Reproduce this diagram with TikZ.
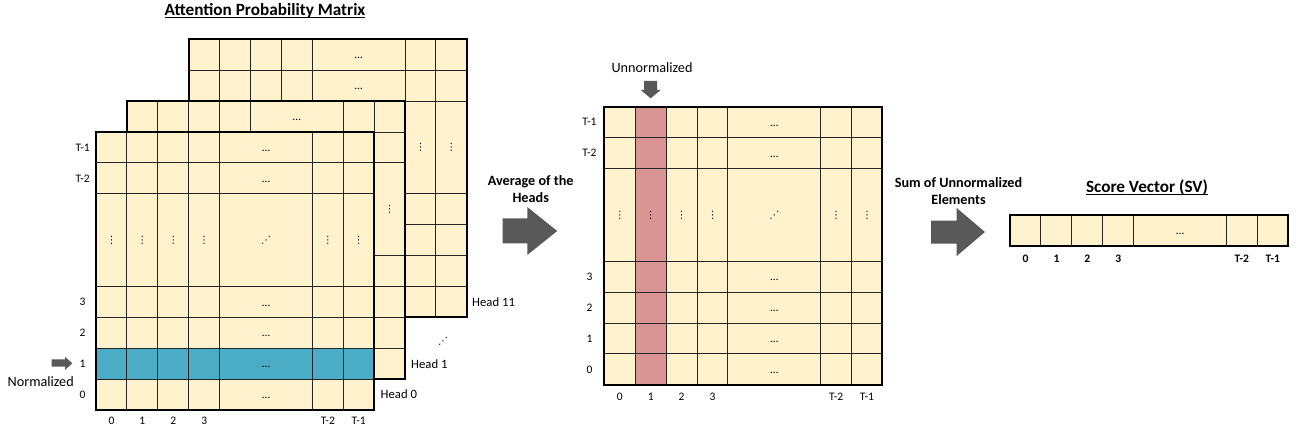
\documentclass[tikz,border=0pt]{standalone}
\usepackage{fontspec}
\setmainfont{Carlito}
\newfontfamily\dotsfont{DejaVu Sans}
\usetikzlibrary{calc}

\definecolor{cellcream}{RGB}{255,242,204}
\definecolor{rowblue}{RGB}{75,172,198}
\definecolor{colred}{RGB}{217,149,148}
\definecolor{arrowgray}{RGB}{89,89,89}

\tikzset{
  gridline/.style={line width=1pt,draw=black!85},
  frameline/.style={line width=2pt,draw=black},
}

% size of one cell
\newcommand{\uw}{30.9}

% one 9x9 probability matrix, origin at its top left corner
\newcommand{\probgrid}[3]{%
  \begin{scope}[shift={(#1,#2)}]
    \fill[cellcream] (0,0) rectangle (9*\uw,9*\uw);
    #3
    \foreach \c in {1,2,3,4,7,8}
      \draw[gridline] (\c*\uw,0) -- (\c*\uw,9*\uw);
    \foreach \r in {1,2,5,6,7,8}
      \draw[gridline] (0,\r*\uw) -- (9*\uw,\r*\uw);
    \draw[frameline] (0,0) rectangle (9*\uw,9*\uw);
  \end{scope}}

% underlined titles
\newcommand{\undertext}[1]{\setbox0\hbox{#1}\rlap{\usebox0}\rule[-2.6pt]{\wd0}{1.2pt}}

\begin{document}
\begin{tikzpicture}[x=1pt,y=-1pt,
    idx/.style={inner sep=0pt,font=\fontsize{11.5}{13}\selectfont},
    bidx/.style={inner sep=0pt,font=\fontsize{11.5}{13}\selectfont\bfseries},
    hdots/.style={inner sep=0pt,text height=9pt,text depth=1pt,font=\fontsize{11.5}{13}\selectfont},
    vdot/.style={inner sep=0pt,font=\dotsfont\fontsize{10}{11}\selectfont},
    headlab/.style={inner sep=0pt,anchor=base west,font=\fontsize{12.7}{14}\selectfont},
    notelab/.style={inner sep=0pt,anchor=base,font=\fontsize{14.2}{17}\selectfont},
    capt/.style={inner sep=0pt,align=center,font=\fontsize{14.2}{17.5}\selectfont\bfseries},
    ttl/.style={inner sep=0pt,anchor=base,font=\fontsize{17.2}{20}\selectfont\bfseries},
    blockarrow/.style={fill=arrowgray}]

    \useasboundingbox (0,0) rectangle (1297,433);

    % Draw the stack of heads, back to front
    \probgrid{188.7}{39.3}{}
    \probgrid{126.9}{101.1}{}
    \probgrid{96}{132}{\fill[rowblue] (0,7*\uw) rectangle (9*\uw,8*\uw);}

    % Visible parts of Head 11 and Head 1
    \node[hdots] (h11top) at (358.7,54.8) {…};
    \node[hdots] (h11sec) at (358.7,85.7) {…};
    \node[vdot] (h11va) at (420.5,147.5) {⋮};
    \node[vdot] (h11vb) at (451.4,147.5) {⋮};
    \node[hdots] (h1top) at (296.9,116.6) {…};
    \node[vdot] (h1v) at (389.5,209.3) {⋮};

    % Head 0 contents and indices
    \foreach \lab/\yy [count=\i] in {T-1/147.5,T-2/178.4,3/302,2/332.9,1/363.8,0/394.7}
      \node[idx] (frow\i) at (82.6,\yy) {\lab};
    \foreach \lab/\xx [count=\i] in {0/111.5,1/142.4,2/173.3,3/204.2,T-2/327.8,T-1/358.7}
      \node[idx] (fcol\i) at (\xx,420.7) {\lab};
    \foreach \yy [count=\i] in {147.5,178.4,302,332.9,363.8,394.7}
      \node[hdots] (fh\i) at (266,\yy) {…};
    \foreach \xx [count=\i] in {111.5,142.4,173.3,204.2,327.8,358.7}
      \node[vdot] (fv\i) at (\xx,240.2) {⋮};
    \node[vdot] (fdiag) at (266,240.2) {⋰};

    % Head names
    \node[headlab] (head11) at (472,306.7) {Head 11};
    \node[headlab] (head1) at (411,368.3) {Head 1};
    \node[headlab] (head0) at (380.5,398.3) {Head 0};
    \node[vdot] (headdiag) at (443,341) {⋰};

    % Title and normalized row marker
    \node[ttl] (probtitle) at (265,15.5) {\undertext{Attention Probability Matrix}};
    \node[notelab] (normlab) at (40.7,386.7) {Normalized};
    \fill[blockarrow] (51.7,359.3) -- (65,359.3) -- (65,356.7) -- (72.3,363.3)
      -- (65,370) -- (65,366.7) -- (51.7,366.7) -- cycle;

    % Averaging step
    \node[capt] (avglab) at (530.7,189) {Average of the\\Heads};
    \fill[blockarrow] (502.7,218.3) -- (527.3,218.3) -- (527.3,207) -- (557.3,231)
      -- (527.3,255) -- (527.3,243.3) -- (502.7,243.3) -- cycle;

    % Averaged matrix
    \probgrid{604.3}{106.7}{\fill[colred] (\uw,0) rectangle (2*\uw,9*\uw);}
    \foreach \lab/\yy [count=\i] in {T-1/122.2,T-2/153.1,3/276.7,2/307.6,1/338.5,0/369.4}
      \node[idx] (mrow\i) at (589.5,\yy) {\lab};
    \foreach \lab/\xx [count=\i] in {0/619.8,1/650.7,2/681.6,3/712.5,T-2/836.1,T-1/867}
      \node[idx] (mcol\i) at (\xx,397) {\lab};
    \foreach \yy [count=\i] in {122.2,153.1,276.7,307.6,338.5,369.4}
      \node[hdots] (mh\i) at (774.3,\yy) {…};
    \foreach \xx [count=\i] in {619.8,650.7,681.6,712.5,836.1,867}
      \node[vdot] (mv\i) at (\xx,214.9) {⋮};
    \node[vdot] (mdiag) at (774.3,214.9) {⋰};

    \node[notelab] (unnormlab) at (652,72.7) {Unnormalized};
    \fill[blockarrow] (644,81) -- (657,81) -- (657,90) -- (660.7,90)
      -- (650.7,98.3) -- (640.7,90) -- (644,90) -- cycle;

    % Summing step
    \node[capt] (sumlab) at (958.5,191) {Sum of Unnormalized\\Elements};
    \fill[blockarrow] (931,220.5) -- (956.7,220.5) -- (956.7,208) -- (985,232)
      -- (956.7,256) -- (956.7,243.5) -- (931,243.5) -- cycle;

    % Score vector
    \node[ttl] (svtitle) at (1147,192.7) {\undertext{Score Vector (SV)}};
    \fill[cellcream] (1010,215) rectangle (1010+9*\uw,215+\uw);
    \foreach \c in {1,2,3,4,7,8}
      \draw[gridline] (1010+\c*\uw,215) -- (1010+\c*\uw,215+\uw);
    \draw[frameline] (1010,215) rectangle (1010+9*\uw,215+\uw);
    \node[hdots] (svdots) at (1180,230.5) {…};
    \foreach \lab/\xx [count=\i] in {0/1025.5,1/1056.4,2/1087.3,3/1118.2,T-2/1241.8,T-1/1272.7}
      \node[bidx] (svcol\i) at (\xx,259) {\lab};

\end{tikzpicture}
\end{document}
